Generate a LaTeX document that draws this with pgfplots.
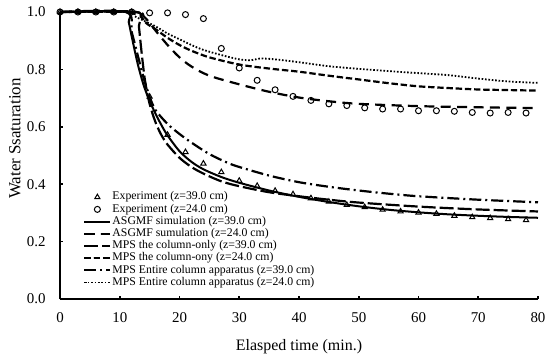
\documentclass[border=0pt]{standalone}
\usepackage{pgfplots}
\pgfplotsset{compat=1.18}
\usepackage{fontspec}
\setmainfont{Liberation Serif}
\begin{document}
\begin{tikzpicture}
\begin{axis}[
  scale only axis, width=239bp, height=143.5bp,
  xmin=0, xmax=80, ymin=0, ymax=1,
  axis lines*=left,
  axis line style={line width=0.8bp},
  clip=false,
  xtick={0,10,...,80}, ytick={0,0.2,0.4,0.6,0.8,1.0},
  tick align=inside, major tick length=1.7bp,
  every tick/.style={line width=0.8bp, black},
  /pgf/number format/assume math mode=true,
  ticklabel style={font=\fontsize{7.5}{9}\selectfont},
  yticklabel style={/pgf/number format/.cd, fixed, fixed zerofill, precision=1, /tikz/.cd, inner sep=0pt, anchor=east, xshift=-7bp},
  xticklabel style={inner sep=0pt, anchor=north, yshift=-6.5bp},
  xlabel={Elasped time (min.)},
  ylabel={Water Ssaturation},
  xlabel style={font=\fontsize{8}{9.6}\selectfont, at={(axis description cs:0.5,0)}, anchor=north, inner sep=0pt, yshift=-20bp},
  ylabel style={font=\fontsize{8.5}{10}\selectfont, at={(axis description cs:0,0.559)}, anchor=center, inner sep=0pt, yshift=22.5bp},
  legend image code/.code={\draw[mark repeat=2,mark phase=2,#1] plot coordinates {(0bp,0bp) (6.5bp,0bp) (13bp,0bp)};},
  legend cell align=left,
  legend style={draw=none, fill=none, inner sep=0pt, outer sep=0pt,
    at={(axis description cs:0.0487,0.376)}, anchor=north west,
    font=\fontsize{5.9}{6.4}\selectfont, row sep=0bp,
    nodes={inner sep=0.5bp, text height=3.9bp, text depth=1.2bp}},
]
% Experiment z=39
\addplot[only marks, mark=triangle, mark size=1.5bp, mark options={line width=0.5bp, black}] coordinates {
(0,1.0)(3,1.0)(6,1.0)(9,1.0)(12,1.0)(15,0.705)(18,0.572)(21,0.512)(24,0.472)(27,0.442)(30,0.412)(33,0.394)(36,0.377)(39,0.365)(42,0.351)(45,0.339)(48,0.328)(51,0.320)(54,0.311)(57,0.305)(60,0.301)(63,0.297)(66,0.290)(69,0.285)(72,0.282)(75,0.278)(78,0.275)};
\addlegendentry{Experiment (z=39.0 cm)}
% Experiment z=24
\addplot[only marks, mark=o, mark size=1.5bp, mark options={line width=0.5bp, black}] coordinates {
(0,1.0)(3,1.0)(6,1.0)(9,1.0)(12,1.0)(15,0.997)(18,0.997)(21,0.991)(24,0.977)(27,0.873)(30,0.805)(33,0.762)(36,0.729)(39,0.706)(42,0.692)(45,0.680)(48,0.674)(51,0.666)(54,0.662)(57,0.662)(60,0.656)(63,0.656)(66,0.654)(69,0.650)(72,0.648)(75,0.650)(78,0.648)};
\addlegendentry{Experiment (z=24.0 cm)}
% ASGMF z=39
\addplot[black, line width=1bp, smooth] coordinates {
(0,1.0)(11,1.0)(11.5,0.965)(12,0.915)(13,0.82)(14,0.745)(15,0.69)(16,0.645)(17,0.605)(18,0.57)(20,0.515)(22,0.478)(24,0.452)(27,0.425)(30,0.405)(35,0.378)(40,0.356)(45,0.338)(50,0.323)(55,0.311)(60,0.302)(65,0.295)(70,0.29)(75,0.286)(80,0.283)};
\addlegendentry{ASGMF simulation (z=39.0 cm)}
% ASGMF z=24
\addplot[black, line width=1.1bp, dash pattern=on 5bp off 3.2bp, smooth] coordinates {
(0,1.0)(12.5,1.0)(14,0.985)(15,0.962)(16,0.935)(18,0.885)(20,0.842)(22,0.81)(25,0.778)(30,0.748)(35,0.722)(40,0.702)(45,0.689)(50,0.68)(60,0.672)(70,0.668)(80,0.665)};
\addlegendentry{ASGMF sumulation (z=24.0 cm)}
% MPS column-only z=39
\addplot[black, line width=1.1bp, dash pattern=on 7bp off 2bp, smooth] coordinates {
(0,1.0)(12.8,1.0)(13.2,0.95)(13.6,0.87)(14.2,0.765)(15,0.68)(16,0.615)(17,0.57)(18,0.538)(20,0.492)(22,0.46)(24,0.437)(27,0.41)(30,0.393)(35,0.372)(40,0.358)(45,0.346)(50,0.336)(60,0.322)(70,0.312)(80,0.305)};
\addlegendentry{MPS the column-only (z=39.0 cm)}
% MPS column-only z=24
\addplot[black, line width=1.1bp, dash pattern=on 3.2bp off 1.4bp, smooth] coordinates {
(0,1.0)(12.5,1.0)(13.5,0.985)(14.5,0.96)(16,0.94)(18,0.91)(20,0.885)(22,0.865)(25,0.842)(30,0.817)(35,0.803)(40,0.792)(45,0.778)(50,0.765)(55,0.752)(60,0.741)(65,0.735)(70,0.73)(75,0.728)(80,0.726)};
\addlegendentry{MPS the column-ony (z=24.0 cm)}
% MPS entire z=39
\addplot[black, line width=1.1bp, dash pattern=on 6bp off 2bp on 1bp off 2bp, smooth] coordinates {
(0,1.0)(11,1.0)(12,0.93)(13,0.85)(14,0.77)(15,0.705)(16,0.658)(18,0.61)(20,0.575)(22,0.545)(25,0.505)(28,0.475)(30,0.46)(35,0.43)(40,0.407)(45,0.391)(50,0.378)(55,0.367)(60,0.358)(70,0.346)(80,0.337)};
\addlegendentry{MPS Entire column apparatus (z=39.0 cm)}
% MPS entire z=24
\addplot[black, line width=0.9bp, dash pattern=on 0.8bp off 0.9bp, smooth] coordinates {
(0,1.0)(11.5,1.0)(12.5,0.985)(14,0.97)(16,0.95)(18,0.925)(20,0.905)(22,0.885)(24,0.868)(27,0.85)(30,0.835)(32,0.832)(33.5,0.838)(36,0.835)(40,0.825)(45,0.811)(50,0.802)(55,0.794)(60,0.787)(65,0.78)(70,0.768)(75,0.758)(80,0.753)};
\addlegendentry{MPS Entire column apparatus (z=24.0 cm)}
\coordinate (ll) at (rel axis cs:0,0);
\coordinate (ur) at (rel axis cs:1,1);
\end{axis}
\pgfresetboundingbox
\path ([shift={(-30bp,-29.5bp)}]ll) rectangle ([shift={(6bp,6bp)}]ur);
\end{tikzpicture}
\end{document}
